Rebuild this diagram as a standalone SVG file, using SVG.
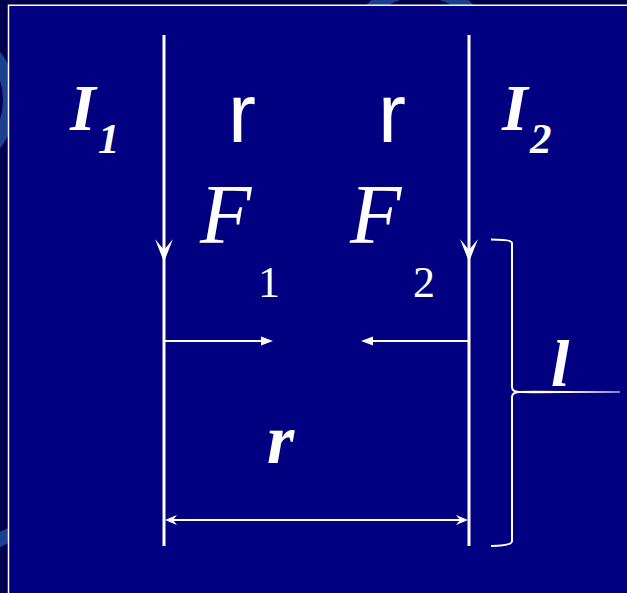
<svg xmlns="http://www.w3.org/2000/svg" width="627" height="593" viewBox="0 0 627 593">
<style>
.w{stroke:#fff;fill:none}
.t{fill:#fff}
.bi{font-family:"Liberation Serif",serif;font-style:italic;font-weight:bold}
.it{font-family:"Liberation Serif",serif;font-style:italic}
.rs{font-family:"Liberation Serif",serif}
.sa{font-family:"Liberation Sans",sans-serif}
</style>
<defs>
<clipPath id="outer"><path d="M0 0H627V5H9V593H0Z"/></clipPath>
</defs>
<rect width="627" height="593" fill="#00004e"/>
<g clip-path="url(#outer)" fill="none" stroke="#1d3f8f" stroke-width="14">
<circle cx="330" cy="200" r="160"/>
<circle cx="40" cy="620" r="90"/>
<circle cx="-60" cy="100" r="70"/>
<circle cx="420" cy="60" r="70"/>
</g>
<rect x="10" y="6" width="617" height="587" fill="#000080"/>
<path class="w" stroke-width="1.5" d="M8.5 593V5.2H627"/>
<g id="wires">
<line class="w" stroke-width="3" x1="164" y1="35" x2="164" y2="546"/>
<line class="w" stroke-width="3" x1="469" y1="35" x2="469" y2="546"/>
<path class="t" d="M164 262L155 239L164 250L173 239Z"/>
<path class="t" d="M469 262L460 239L469 250L478 239Z"/>
</g>
<g id="labels">
<text class="t bi" x="70" y="130" font-size="66">I</text>
<text class="t bi" x="98" y="153" font-size="43">1</text>
<text class="t bi" x="502" y="130" font-size="66">I</text>
<text class="t bi" x="530" y="153" font-size="43">2</text>
<text class="t sa" x="228" y="142" font-size="84">r</text>
<text class="t sa" x="378" y="142" font-size="84">r</text>
<text class="t it" x="200" y="243" font-size="84">F</text>
<text class="t it" x="350" y="243" font-size="84">F</text>
<text class="t rs" x="258" y="297" font-size="44">1</text>
<text class="t rs" x="413" y="297" font-size="44">2</text>
<text class="t bi" x="267" y="463" font-size="70">r</text>
<text class="t bi" x="551" y="386" font-size="66">l</text>
</g>
<g id="connectors">
<line class="w" stroke-width="2" x1="164" y1="341" x2="262" y2="341"/>
<path class="t" d="M273 341L261 336.5V345.5Z"/>
<line class="w" stroke-width="2" x1="469" y1="341" x2="372" y2="341"/>
<path class="t" d="M361 341L373 336.5V345.5Z"/>
<line class="w" stroke-width="2" x1="168" y1="520" x2="465" y2="520"/>
<path class="t" d="M165 520L177 515L173 520L177 525Z"/>
<path class="t" d="M468 520L456 515L460 520L456 525Z"/>
</g>
<g id="brace">
<path class="w" stroke-width="2" d="M491 239.5Q512 239.5 512 243V387Q512 392 520 392Q512 392 512 397V541Q512 546 491 546"/>
<path class="t" d="M520 391L534 390.8L620 391.6V392.4L534 393.2L520 393Z"/>
</g>
</svg>
